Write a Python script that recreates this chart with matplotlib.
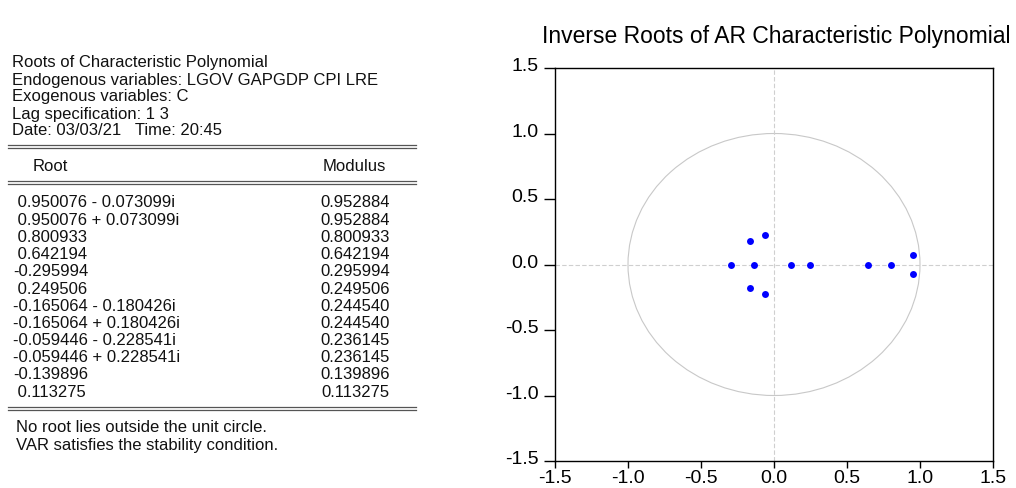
import numpy as np
import matplotlib
matplotlib.use("Agg")
import matplotlib.pyplot as plt
from matplotlib.patches import Circle
from matplotlib.lines import Line2D
from matplotlib.transforms import ScaledTranslation

plt.rcParams['font.family'] = ['Liberation Sans', 'DejaVu Sans']

# roots of the characteristic polynomial (read from the EViews output)
root_real = [0.950076, 0.950076, 0.800933, 0.642194, -0.295994, 0.249506,
             -0.165064, -0.165064, -0.059446, -0.059446, -0.139896, 0.113275]
root_imag = [-0.073099, 0.073099, 0, 0, 0, 0,
             -0.180426, 0.180426, -0.228541, 0.228541, 0, 0]
modulus = ["0.952884", "0.952884", "0.800933", "0.642194", "0.295994", "0.249506",
           "0.244540", "0.244540", "0.236145", "0.236145", "0.139896", "0.113275"]

header_lines = ["Roots of Characteristic Polynomial",
                "Endogenous variables: LGOV GAPGDP CPI LRE",
                "Exogenous variables: C",
                "Lag specification: 1 3",
                "Date: 03/03/21   Time: 20:45"]
footer_lines = ["No root lies outside the unit circle.",
                "VAR satisfies the stability condition."]
ticks = [-1.5, -1.0, -0.5, 0.0, 0.5, 1.0, 1.5]

W, H = 1016, 489
fig = plt.figure(figsize=(W / 100, H / 100), dpi=100)

def fx(x):
    return x / W

def fy(y):
    return 1 - y / H

def dline(y):
    # double rule like the eviews table
    for yy in (y, y + 3):
        fig.add_artist(Line2D([fx(8), fx(416)], [fy(yy), fy(yy)], color='#555555', lw=0.9))

def root_str(re, im):
    s = f"{re:.6f}"
    if re >= 0:
        s = " " + s
    if im != 0:
        s += (" + " if im > 0 else " - ") + f"{abs(im):.6f}i"
    return s

tfs = 12
tcol = '#111111'
for i, line in enumerate(header_lines):
    fig.text(fx(12), fy(63 + i * 17), line, fontsize=tfs, va='center', color=tcol)

dline(146)
fig.text(fx(33), fy(167), "Root", fontsize=tfs, va='center', color=tcol)
fig.text(fx(386), fy(167), "Modulus", fontsize=tfs, va='center', ha='right', color=tcol)
dline(182)

for i, (re, im, m) in enumerate(zip(root_real, root_imag, modulus)):
    y = 203 + i * 17.2
    fig.text(fx(13), fy(y), root_str(re, im), fontsize=tfs, va='center', color=tcol)
    fig.text(fx(390), fy(y), m, fontsize=tfs, va='center', ha='right', color=tcol)

dline(408)
for i, line in enumerate(footer_lines):
    fig.text(fx(16), fy(428 + i * 18), line, fontsize=tfs, va='center', color=tcol)

# inverse roots chart
ax = fig.add_axes([fx(555), fy(462), fx(993) - fx(555), (462 - 69) / H])
ax.add_patch(Circle((0, 0), 1, fill=False, ec='#c8c8c8', lw=0.8))
ax.axhline(0, color='#cfcfcf', ls='--', lw=0.8, dashes=(4, 2))
ax.axvline(0, color='#cfcfcf', ls='--', lw=0.8, dashes=(4, 2))
ax.plot(root_real, root_imag, 'o', color='#0000ff', ms=5, mec='none')
ax.set_xlim(-1.5, 1.5)
ax.set_ylim(-1.5, 1.5)
ax.set_xticks(ticks)
ax.set_yticks(ticks)
ax.set_xticklabels([f"{t:.1f}" for t in ticks])
ax.set_yticklabels([f"{t:.1f}" for t in ticks])
ax.tick_params(direction='out', labelsize=14, width=1)
ax.tick_params(axis='x', length=5, pad=0.5)
ax.tick_params(axis='y', length=8, pad=4)
# eviews draws the y labels a little above their ticks
shift = ScaledTranslation(0, 3 / 72, fig.dpi_scale_trans)
for lab in ax.get_yticklabels():
    lab.set_transform(lab.get_transform() + shift)
for s in ax.spines.values():
    s.set_linewidth(1)
fig.text(fx(1010), fy(36), "Inverse Roots of AR Characteristic Polynomial",
         fontsize=16.5, ha='right', va='center')

fig.savefig("out.png", dpi=100)
